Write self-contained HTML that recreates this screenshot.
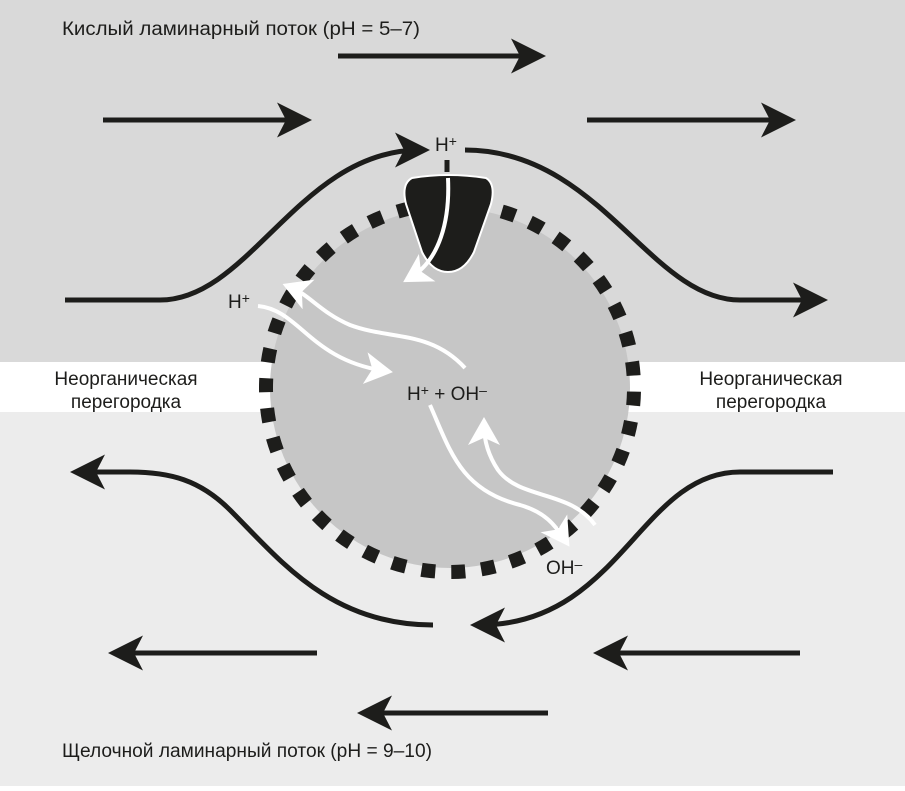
<!DOCTYPE html>
<html><head><meta charset="utf-8"><style>
html,body{margin:0;padding:0;}
body{width:905px;height:786px;overflow:hidden;font-family:"Liberation Sans",sans-serif;}
</style></head><body>
<svg width="905" height="786" viewBox="0 0 905 786" xmlns="http://www.w3.org/2000/svg" font-family="Liberation Sans, DejaVu Sans, sans-serif">
<defs>
<marker id="ab" markerWidth="8" markerHeight="8" refX="5" refY="4" orient="auto" markerUnits="strokeWidth">
<path d="M0,0.5 L7,4 L0,7.5 L1.8,4 Z" fill="#1d1d1b"/></marker>
<marker id="aw" markerWidth="8" markerHeight="8" refX="5" refY="4" orient="auto" markerUnits="strokeWidth">
<path d="M0,0 L7,4 L0,8 L1.8,4 Z" fill="#fff"/></marker>
</defs>
<rect x="0" y="0" width="905" height="362" fill="#d9d9d9"/>
<rect x="0" y="362" width="905" height="50" fill="#fff"/>
<rect x="0" y="412" width="905" height="374" fill="#ececec"/>

<circle cx="450" cy="388" r="180" fill="#c6c6c6"/>
<circle cx="450" cy="388" r="184" fill="none" stroke="#1d1d1b" stroke-width="14" stroke-dasharray="14 16" transform="rotate(-83 450 388)"/>

<g stroke="#1d1d1b" stroke-width="5" fill="none">
<path d="M338,56 H536" marker-end="url(#ab)"/>
<path d="M103,120 H302" marker-end="url(#ab)"/>
<path d="M587,120 H786" marker-end="url(#ab)"/>
<path d="M65,300 H160 C250,300 300,150 420,150" marker-end="url(#ab)"/>
<path d="M465,150 C600,150 650,300 740,300 H818" marker-end="url(#ab)"/>
<path d="M433,625 C330,625 280,560 230,510 C200,480 170,472 130,472 H80" marker-end="url(#ab)"/>
<path d="M833,472 H740 C640,472 620,625 480,625" marker-end="url(#ab)"/>
<path d="M317,653 H118" marker-end="url(#ab)"/>
<path d="M800,653 H603" marker-end="url(#ab)"/>
<path d="M548,713 H367" marker-end="url(#ab)"/>
</g>

<path d="M447,160 V172" stroke="#1d1d1b" stroke-width="5"/>
<path d="M412,178 Q448,172 486,178 Q496,184 491,204 L474,252 Q464,272 448,272 Q432,272 422,252 L406,204 Q401,184 412,178 Z" fill="#1d1d1b" stroke="#fff" stroke-width="2"/>

<g stroke="#fff" stroke-width="4" fill="none">
<path d="M448,178 C450,220 440,260 410,278" marker-end="url(#aw)"/>
<path d="M465,368 C430,330 390,340 350,325 C320,312 310,295 290,287" marker-end="url(#aw)"/>
<path d="M258,306 C300,310 310,360 385,371" marker-end="url(#aw)"/>
<path d="M430,405 C450,450 460,490 520,505 C545,512 555,525 565,540" marker-end="url(#aw)"/>
<path d="M595,525 C570,490 520,500 498,470 C488,455 484,440 484,425" marker-end="url(#aw)"/>
</g>

<g fill="#1d1d1b" font-size="19">
<text x="62" y="35" textLength="358" lengthAdjust="spacingAndGlyphs">Кислый ламинарный поток (pH = 5–7)</text>
<text x="62" y="757" textLength="370" lengthAdjust="spacingAndGlyphs">Щелочной ламинарный поток (pH = 9–10)</text>
<text x="126" y="385" text-anchor="middle">Неорганическая</text>
<text x="126" y="408" text-anchor="middle">перегородка</text>
<text x="771" y="385" text-anchor="middle">Неорганическая</text>
<text x="771" y="408" text-anchor="middle">перегородка</text>
<text x="435" y="151">H<tspan font-size="14" dy="-5">+</tspan></text>
<text x="228" y="308">H<tspan font-size="14" dy="-5">+</tspan></text>
<text x="407" y="400">H<tspan font-size="14" dy="-5">+</tspan><tspan dy="5"> + OH</tspan><tspan font-size="14" dy="-5">–</tspan></text>
<text x="546" y="574">OH<tspan font-size="14" dy="-5">–</tspan></text>
</g>
</svg>
</body></html>
